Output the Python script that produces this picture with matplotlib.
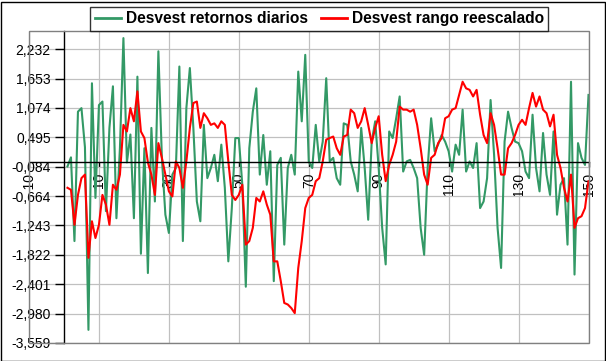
import numpy as np
import matplotlib.pyplot as plt
from matplotlib.patches import Rectangle

plt.rcParams['font.family'] = ['Liberation Sans', 'DejaVu Sans']

# days 1..150
dias = list(range(1, 151))

# Desvest retornos diarios (green)
retornos = [
    -0.08, 0.10, -1.55, 1.00, 1.07, 0.30, -3.30, 1.56, -0.70, 1.13,
    1.20, -0.96, 0.68, 1.50, -1.10, 0.28, 2.45, 0.00, 0.55, -1.10,
    1.69, -1.80, 0.28, -2.18, 0.68, -0.77, 2.19, 0.09, -1.03, -1.39,
    -0.24, -0.11, 1.89, -1.55, 1.07, 1.86, 0.68, -0.77, -1.16, 0.74,
    -0.31, -0.11, 0.15, -0.37, 0.35, -0.50, -1.95, -0.90, 0.48, 0.48,
    -0.44, -2.45, 0.28, 1.00, 1.46, -0.24, 0.54, -0.44, 0.22, -2.34,
    -0.05, 0.09, -1.62, -0.11, 0.15, -0.24, 1.79, 0.81, 2.12, 0.02,
    -0.11, 0.74, 0.02, 0.41, 1.66, 0.02, 0.09, -0.31, -0.44, 0.77,
    0.74, 0.02, -0.24, -0.57, 0.68, -0.11, -1.13, 0.41, 0.81, -0.11,
    -1.29, -2.01, 0.61, 0.48, 0.87, 1.30, -0.18, 0.02, 0.05, -0.11,
    -0.31, -1.29, -1.82, -0.11, 0.87, 0.22, 0.35, 0.54, 0.41, 0.22,
    -0.18, 0.35, 0.15, 1.04, -0.18, 0.02, -0.11, 0.38, -0.90, -0.77,
    -0.31, 1.23, 0.15, -1.29, -2.08, 0.41, 1.00, 0.68, 0.41, 0.38,
    0.22, -0.18, -0.31, 0.94, -0.11, -0.57, 0.58, -0.24, -0.64, 0.61,
    -1.03, -0.44, -0.31, -1.62, 1.59, -2.21, 0.38, 0.09, -0.05, 1.33,
]

# Desvest rango reescalado (red)
rango = [
    -0.50, -0.54, -1.23, -0.64, -0.31, -0.24, -1.88, -1.16, -1.49, -1.23,
    -0.64, -0.83, -1.23, -0.44, -0.54, -0.24, 0.74, 0.61, 1.07, 0.81,
    1.40, 0.61, 0.48, 0.00, -0.24, -0.64, 0.38, 0.09, -0.24, -0.57,
    -0.67, 0.02, -0.11, -0.50, 0.02, 0.68, 1.17, 1.20, 0.68, 0.97,
    0.87, 0.74, 0.77, 0.68, 0.81, 0.74, 0.02, -0.64, -0.74, -0.64,
    -0.44, -1.62, -1.55, -1.29, -0.70, -0.77, -0.57, -0.83, -1.03, -1.95,
    -1.95, -2.34, -2.77, -2.80, -2.87, -2.97, -2.08, -1.55, -0.90, -0.70,
    -0.64, -0.37, -0.31, 0.02, 0.45, 0.48, 0.51, 0.28, 0.15, 0.51,
    0.54, 1.04, 0.97, 0.68, 0.81, 1.07, 0.74, 0.38, 0.68, 0.91,
    0.15, -0.37, -0.05, 0.15, 0.41, 1.10, 1.04, 1.04, 1.00, 1.04,
    0.74, 0.28, -0.24, -0.44, 0.09, 0.15, 0.38, 0.48, 0.87, 0.91,
    1.04, 1.07, 1.33, 1.59, 1.46, 1.43, 1.30, 1.43, 0.94, 0.54,
    0.38, 0.97, 0.74, 0.28, -0.24, -0.24, 0.28, 0.38, 0.54, 0.74,
    0.84, 0.74, 1.07, 1.37, 1.10, 1.30, 1.04, 0.97, 0.71, 0.94,
    0.15, -0.11, -0.50, -0.77, -0.24, -1.29, -1.10, -1.06, -0.90, -0.37,
]

yticks = [-3.559, -2.980, -2.401, -1.822, -1.243, -0.664, -0.084,
          0.495, 1.074, 1.653, 2.232]
ytick_labels = ['-3,559', '-2,980', '-2,401', '-1,822', '-1,243', '-0,664',
                '-0,084', '0,495', '1,074', '1,653', '2,232']
xticks = [-10, 10, 30, 50, 70, 90, 110, 130, 150]

fig = plt.figure(figsize=(6.06, 3.61), dpi=100)
ax = fig.add_axes([29 / 606, 18 / 361, 559.5 / 606, 312 / 361])

ax.plot(dias, retornos, color='#339966', lw=1.5, label='Desvest retornos diarios')
ax.plot(dias, rango, color='#ff0000', lw=1.5, label='Desvest rango reescalado')

ax.set_xlim(-10, 150)
ax.set_ylim(-3.559, 2.59)
ax.set_xticks(xticks)
ax.set_xticklabels([str(v) for v in xticks], fontsize=10)
ax.set_yticks(yticks)
ax.set_yticklabels(ytick_labels, fontsize=11)

ax.grid(True, color='#c0c0c0', lw=0.9)
ax.set_axisbelow(True)

ax.spines['left'].set_position(('data', 0))
ax.spines['bottom'].set_position(('data', 0))
ax.spines['top'].set_visible(False)
ax.spines['right'].set_visible(False)
for s in ('left', 'bottom'):
    ax.spines[s].set_color('black')
    ax.spines[s].set_linewidth(1)
ax.tick_params(axis='y', direction='out', length=6.5, width=1, pad=3)
ax.tick_params(axis='x', direction='out', length=3.5, width=1, pad=4,
               labelrotation=90)
for lab in ax.get_xticklabels():
    lab.set_va('top')
    lab.set_ha('center')

# gray plot-area border
ax.add_patch(Rectangle((0, 0), 1, 1, transform=ax.transAxes, fill=False,
                       edgecolor='#808080', lw=1, zorder=3, clip_on=False))

leg = fig.legend(loc='lower center', bbox_to_anchor=(0.527, 0.914), ncol=2,
                 frameon=True, fancybox=False, borderaxespad=0,
                 prop={'weight': 'bold', 'size': 11.2}, handlelength=1.7,
                 handletextpad=0.3, columnspacing=0.8, borderpad=0.3)
leg.get_frame().set_edgecolor('black')
leg.get_frame().set_linewidth(1)
for h in leg.get_lines():
    h.set_linewidth(2)

# outer chart border
fig.patches.append(Rectangle((0.5 / 606, 0.5 / 361), 604.5 / 606, 359 / 361,
                             transform=fig.transFigure, fill=False,
                             edgecolor='black', lw=1))

fig.savefig('out.png', dpi=100)
